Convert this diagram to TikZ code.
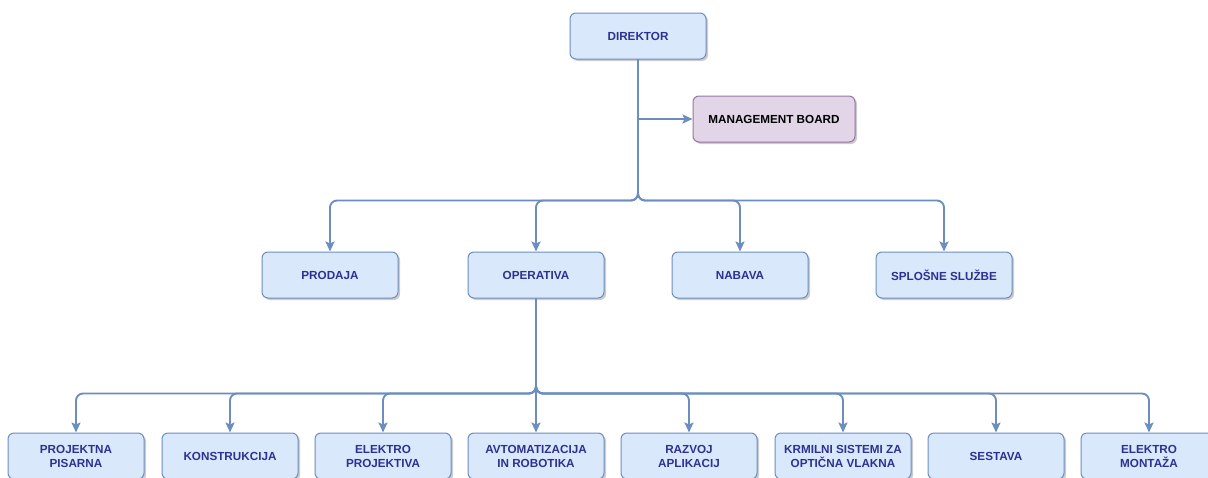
\documentclass[tikz,border=0pt]{standalone}
\usepackage{fontspec}
\setmainfont{Liberation Sans}
\usetikzlibrary{arrows.meta, shadows}

\definecolor{unitfill}{HTML}{DAE8FC}
\definecolor{unitline}{HTML}{6C8EBF}
\definecolor{boardfill}{HTML}{E1D5E7}
\definecolor{boardline}{HTML}{9673A6}
\definecolor{unittext}{HTML}{2E3192}

\tikzset{
  unit/.style={draw=unitline, fill=unitfill, rounded corners=6pt, line width=1pt,
    minimum width=136pt, minimum height=46pt, align=center, text=unittext,
    font=\fontsize{11.7}{14}\selectfont\bfseries,
    drop shadow={shadow xshift=2pt, shadow yshift=-2pt, opacity=0.2, fill=black}},
  board/.style={unit, draw=boardline, fill=boardfill, text=black, minimum width=162pt},
  link/.style={draw=unitline, line width=1.9pt, rounded corners=7pt,
    -{Stealth[length=10pt,width=9pt,inset=2pt]}}
}

\begin{document}
\begin{tikzpicture}[x=1pt,y=-1pt]
\useasboundingbox (0,0) rectangle (1208,477);
\clip (0,0) rectangle (1208,477);

\node[unit] (direktor) at (638,36) {DIREKTOR};
\node[board] (board) at (774,119) {MANAGEMENT BOARD};

% second level
\node[unit] (prodaja) at (330,275) {PRODAJA};
\node[unit] (operativa) at (536,275) {OPERATIVA};
\node[unit] (nabava) at (740,275) {NABAVA};
\node[unit] (splosne) at (944,275) {SPLOŠNE SLUŽBE};

% third level
\node[unit] (pisarna) at (76,456) {PROJEKTNA\\PISARNA};
\node[unit] (konstrukcija) at (230,456) {KONSTRUKCIJA};
\node[unit] (projektiva) at (383,456) {ELEKTRO\\PROJEKTIVA};
\node[unit] (avtomatizacija) at (536,456) {AVTOMATIZACIJA\\IN ROBOTIKA};
\node[unit] (razvoj) at (689,456) {RAZVOJ\\APLIKACIJ};
\node[unit] (krmilni) at (843,456) {KRMILNI SISTEMI ZA\\OPTIČNA VLAKNA};
\node[unit] (sestava) at (996,456) {SESTAVA};
\node[unit] (montaza) at (1149,456) {ELEKTRO\\MONTAŽA};

\coordinate (boardjoin) at (direktor.south |- board.west);
\draw[link] (boardjoin) -- (board.west);

\foreach \dept in {prodaja, operativa, nabava, splosne}
  \draw[link] (direktor.south) -- ++(0,141) -| (\dept.north);

\foreach \dept in {pisarna, konstrukcija, projektiva, avtomatizacija, razvoj, krmilni, sestava, montaza}
  \draw[link] (operativa.south) -- ++(0,95) -| (\dept.north);

\end{tikzpicture}
\end{document}
